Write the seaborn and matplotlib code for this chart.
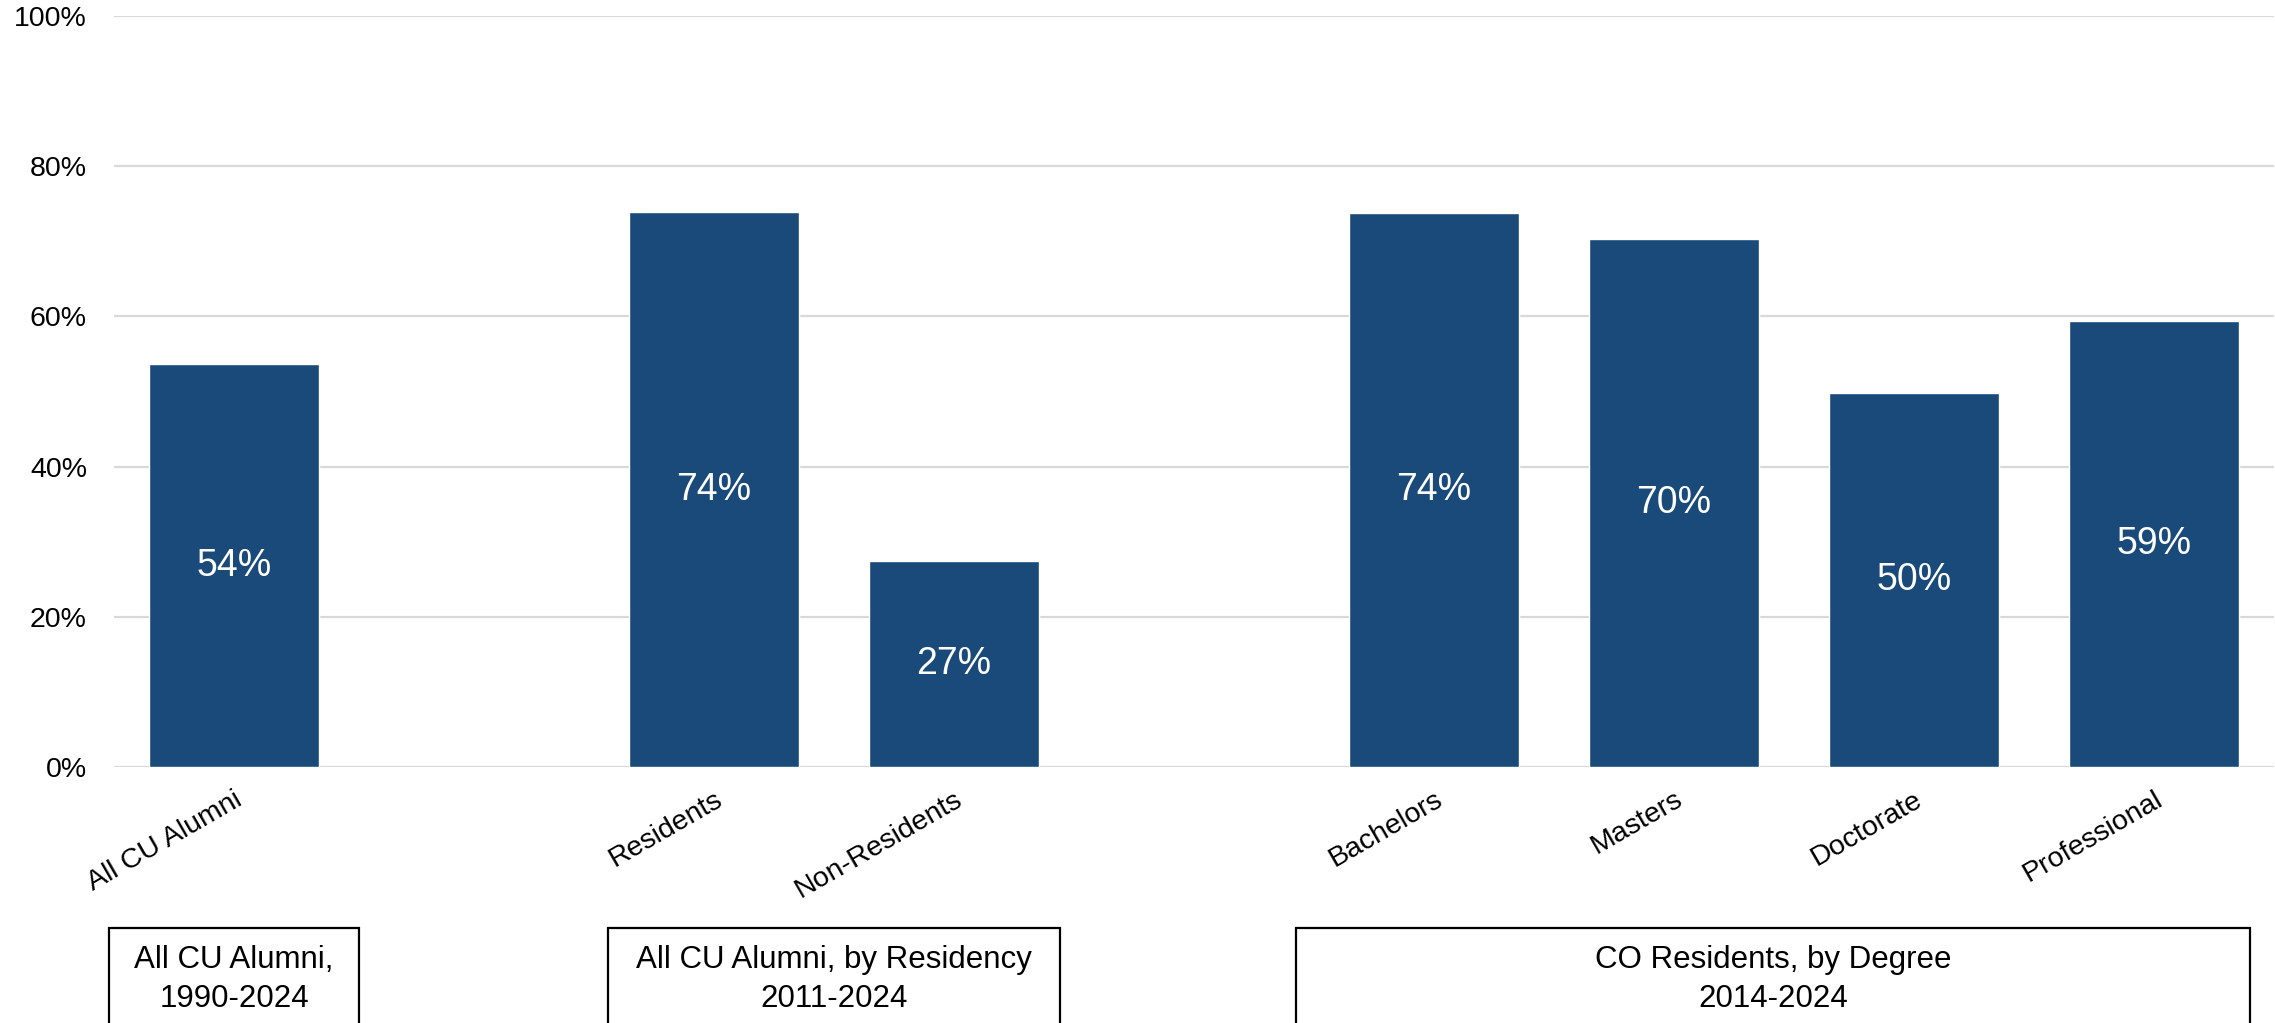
import pandas as pd
import matplotlib.pyplot as plt
import matplotlib.transforms as mtransforms
from matplotlib.patches import Rectangle
import seaborn as sns

# Share of alumni living in Colorado, grouped the way the source chart groups them
groups = ["All CU Alumni,\n1990-2024",
          "All CU Alumni, by Residency\n2011-2024",
          "CO Residents, by Degree\n2014-2024"]
group_members = [["All CU Alumni"],
                 ["Residents", "Non-Residents"],
                 ["Bachelors", "Masters", "Doctorate", "Professional"]]
shares = [[0.536],
          [0.739, 0.274],
          [0.737, 0.703, 0.498, 0.594]]

BAR_COLOR = "#1A4A7A"
GRID_COLOR = "#D9D9D9"
# box edges around each group, in slot units relative to first / last bar
BOX_PAD = [(0.52, 0.52), (0.44, 0.44), (0.575, 0.40)]


def main():
    rows = []
    order = []
    spans = []
    for gi, (g, members, vals) in enumerate(zip(groups, group_members, shares)):
        if gi > 0:
            order.append(" " * gi)  # empty slot between groups
        start = len(order)
        for m, v in zip(members, vals):
            rows.append({"group": g, "category": m, "share": v})
            order.append(m)
        spans.append((start, len(order) - 1))
    df = pd.DataFrame(rows)

    sns.set_theme(style="white")
    plt.rcParams["font.family"] = ["Liberation Sans", "DejaVu Sans"]

    fig = plt.figure(figsize=(22.75, 10.23), dpi=100)
    ax = fig.add_axes([0.0501, 0.2502, 0.9495, 0.7342])

    sns.barplot(data=df, x="category", y="share", order=order, color=BAR_COLOR,
                saturation=1, width=0.71, errorbar=None, ax=ax)

    ax.set_xlim(-0.5, len(order) - 0.5)
    ax.set_ylim(0, 1)
    ax.set_yticks([0, 0.2, 0.4, 0.6, 0.8, 1.0])
    ax.set_yticklabels([f"{t:.0%}" for t in ax.get_yticks()])
    ax.grid(axis="y", color=GRID_COLOR, linewidth=1.6)
    ax.set_axisbelow(True)
    for s in ax.spines.values():
        s.set_visible(False)
    ax.set_xlabel("")
    ax.set_ylabel("")

    ax.tick_params(axis="y", length=0, pad=19.5, labelsize=20.5, labelcolor="black")
    ax.tick_params(axis="x", length=0, pad=14, labelsize=20.5, labelcolor="black")
    plt.setp(ax.get_xticklabels(), rotation=30, ha="right", rotation_mode="anchor")

    for cont in ax.containers:
        ax.bar_label(cont, labels=[f"{v:.0%}" for v in cont.datavalues],
                     label_type="center", color="white", fontsize=27)

    # group boxes underneath the tick labels
    trans = mtransforms.blended_transform_factory(ax.transData, ax.transAxes)
    box_top = -0.2144
    for (first, last), label, (lp, rp) in zip(spans, groups, BOX_PAD):
        x0 = first - lp
        x1 = last + rp
        ax.add_patch(Rectangle((x0, box_top - 0.3), x1 - x0, 0.3, transform=trans,
                               fill=False, edgecolor="black", linewidth=1.6, clip_on=False))
        line1, line2 = label.split("\n")
        xc = (x0 + x1) / 2
        ax.text(xc, -0.2676, line1, transform=trans, ha="center", va="baseline",
                fontsize=22.5, color="black", clip_on=False)
        ax.text(xc, -0.3192, line2, transform=trans, ha="center", va="baseline",
                fontsize=22.5, color="black", clip_on=False)

    plt.savefig("out.png", dpi=100)
    plt.close()


if __name__ == "__main__":
    main()
